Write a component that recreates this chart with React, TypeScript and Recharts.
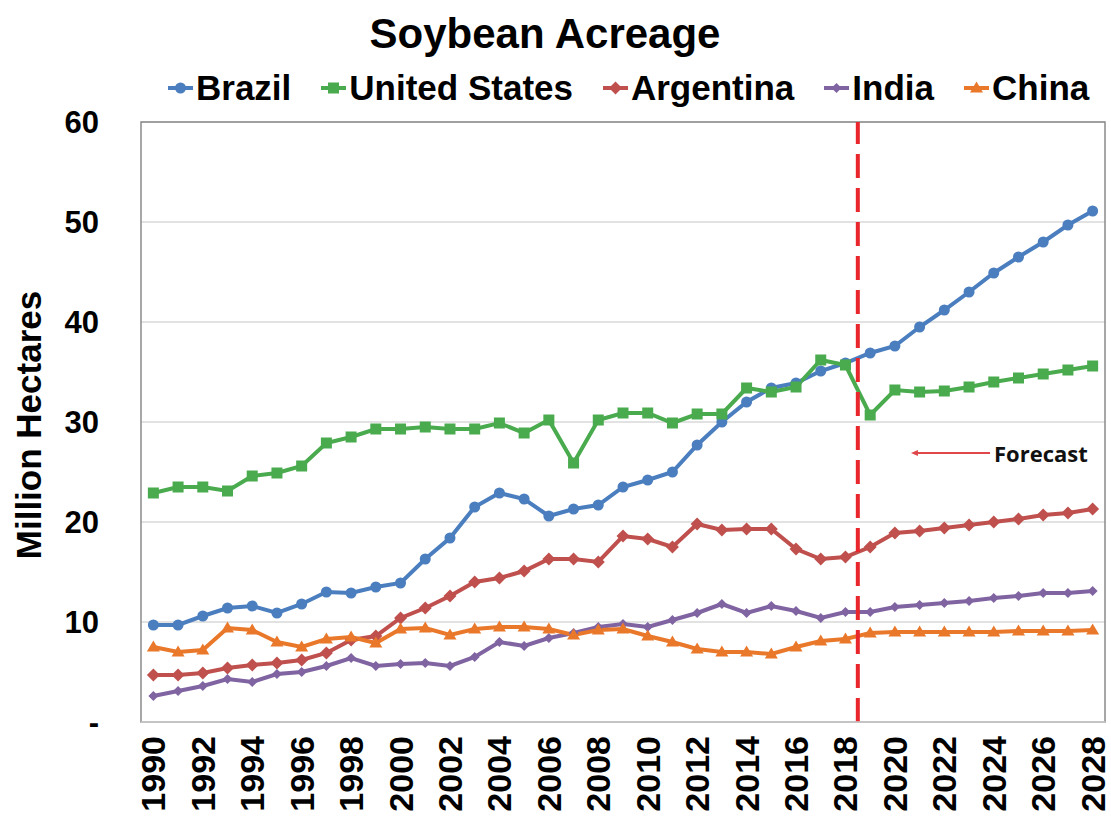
import React from 'react';
import { LineChart, Line, XAxis, YAxis, CartesianGrid, ReferenceLine, ReferenceArea } from 'recharts';

const years = [1990,1991,1992,1993,1994,1995,1996,1997,1998,1999,2000,2001,2002,2003,2004,2005,2006,2007,2008,2009,2010,2011,2012,2013,2014,2015,2016,2017,2018,2019,2020,2021,2022,2023,2024,2025,2026,2027,2028];
const brazil = [9.7,9.7,10.6,11.4,11.6,10.9,11.8,13.0,12.9,13.5,13.9,16.3,18.4,21.5,22.9,22.3,20.6,21.3,21.7,23.5,24.2,25.0,27.7,30.0,32.0,33.4,33.9,35.1,35.9,36.9,37.6,39.5,41.2,43.0,44.9,46.5,48.0,49.7,51.1];
const unitedStates = [22.9,23.5,23.5,23.1,24.6,24.9,25.6,27.9,28.5,29.3,29.3,29.5,29.3,29.3,29.9,28.9,30.2,25.9,30.2,30.9,30.9,29.9,30.8,30.8,33.4,33.0,33.5,36.2,35.7,30.7,33.2,33.0,33.1,33.5,34.0,34.4,34.8,35.2,35.6];
const argentina = [4.7,4.7,4.9,5.4,5.7,5.9,6.2,6.9,8.2,8.6,10.4,11.4,12.6,14.0,14.4,15.1,16.3,16.3,16.0,18.6,18.3,17.5,19.8,19.2,19.3,19.3,17.3,16.3,16.5,17.5,18.9,19.1,19.4,19.7,20.0,20.3,20.7,20.9,21.3];
const india = [2.6,3.1,3.6,4.3,4.0,4.8,5.0,5.6,6.4,5.6,5.8,5.9,5.6,6.5,8.0,7.6,8.4,8.9,9.5,9.8,9.5,10.2,10.9,11.8,10.9,11.6,11.1,10.4,11.0,11.0,11.5,11.7,11.9,12.1,12.4,12.6,12.9,12.9,13.1];
const china = [7.5,7.0,7.2,9.4,9.2,8.0,7.5,8.3,8.5,7.9,9.3,9.4,8.7,9.3,9.5,9.5,9.3,8.7,9.2,9.3,8.6,8.0,7.3,7.0,7.0,6.8,7.5,8.1,8.3,8.9,9.0,9.0,9.0,9.0,9.0,9.1,9.1,9.1,9.2];
const xTicks = [1990,1992,1994,1996,1998,2000,2002,2004,2006,2008,2010,2012,2014,2016,2018,2020,2022,2024,2026,2028];
const yTicks = [0,10,20,30,40,50,60];
const forecastStart = 2018.5;
const arrowFrom = { x: 2023.85, y: 26.9 };
const arrowTo = { x: 2020.65, y: 26.9 };

const data = years.map((year, i) => ({
  year,
  Brazil: brazil[i],
  'United States': unitedStates[i],
  Argentina: argentina[i],
  India: india[i],
  China: china[i],
}));

type Shape = 'circle' | 'square' | 'diamond' | 'smallDiamond' | 'triangle';
const series: { key: string; color: string; shape: Shape }[] = [
  { key: 'Brazil', color: '#4a7ebf', shape: 'circle' },
  { key: 'United States', color: '#4aab4e', shape: 'square' },
  { key: 'Argentina', color: '#bf504d', shape: 'diamond' },
  { key: 'India', color: '#8064a2', shape: 'smallDiamond' },
  { key: 'China', color: '#e9782a', shape: 'triangle' },
];

const FONT = '"Liberation Sans", Arial, sans-serif';

function MarkerShape({ cx, cy, shape, color }: { cx: number; cy: number; shape: Shape; color: string }) {
  if (cx == null || cy == null) return null;
  if (shape === 'circle') return <circle cx={cx} cy={cy} r={5.5} fill={color} />;
  if (shape === 'square') return <rect x={cx - 5.5} y={cy - 5.5} width={11} height={11} fill={color} />;
  if (shape === 'diamond') return <polygon points={`${cx},${cy - 6.5} ${cx + 6.5},${cy} ${cx},${cy + 6.5} ${cx - 6.5},${cy}`} fill={color} />;
  if (shape === 'smallDiamond') return <polygon points={`${cx},${cy - 5} ${cx + 5},${cy} ${cx},${cy + 5} ${cx - 5},${cy}`} fill={color} />;
  return <polygon points={`${cx},${cy - 6.5} ${cx + 6.5},${cy + 4.5} ${cx - 6.5},${cy + 4.5}`} fill={color} />;
}

const makeDot = (shape: Shape, color: string) => (props: any) => (
  <MarkerShape key={`${shape}-${props.index}`} cx={props.cx} cy={props.cy} shape={shape} color={color} />
);

const YTick = (props: any) => {
  const { x, y, payload } = props;
  return (
    <text x={x} y={y} textAnchor="end" dominantBaseline="central" fontFamily={FONT} fontWeight="bold" fontSize={31} fill="#000">
      {payload.value === 0 ? '-' : payload.value}
    </text>
  );
};

const XTick = (props: any) => {
  const { x, y, payload } = props;
  return (
    <text x={x} y={y} transform={`rotate(-90, ${x}, ${y})`} textAnchor="end" dominantBaseline="central" fontFamily={FONT} fontWeight="bold" fontSize={34} fill="#000">
      {payload.value}
    </text>
  );
};

const ArrowShape = (props: any) => {
  const { x1, y1, x2, y2 } = props;
  if (x1 == null) return null;
  const left = Math.min(x1, x2);
  const right = Math.max(x1, x2);
  return (
    <g>
      <line x1={left + 4} y1={y1} x2={right} y2={y2} stroke="#e0474a" strokeWidth={2} />
      <polygon points={`${left},${y1} ${left + 7},${y1 - 3} ${left + 7},${y1 + 3}`} fill="#e0474a" />
      <text x={right + 4} y={y1} dominantBaseline="central" fontFamily='"Open Sans", sans-serif' fontWeight="bold" fontSize={22} fill="#111">
        Forecast
      </text>
    </g>
  );
};

function LegendMarker({ shape, color }: { shape: Shape; color: string }) {
  return (
    <svg width={25} height={14} style={{ display: 'block' }}>
      <line x1={0} y1={7} x2={25} y2={7} stroke={color} strokeWidth={4} />
      <MarkerShape cx={12.5} cy={7} shape={shape} color={color} />
    </svg>
  );
}

export default function App() {
  return (
    <div style={{ position: 'absolute', left: 0, top: 0, width: 1111, height: 823, background: '#fff', fontFamily: FONT }}>
      <LineChart width={1111} height={823} data={data} margin={{ top: 122, right: 6, left: 0, bottom: 0 }}>
        <CartesianGrid horizontal vertical={false} stroke="#d9d9d9" strokeWidth={1.5} />
        <XAxis
          dataKey="year"
          type="number"
          domain={[1989.5, 2028.5]}
          ticks={xTicks}
          interval={0}
          height={101}
          tickLine={false}
          axisLine={{ stroke: '#d0d0d0', strokeWidth: 1.5 }}
          tickSize={0}
          tickMargin={14}
          tick={<XTick />}
          allowDataOverflow
        />
        <YAxis
          domain={[0, 60]}
          ticks={yTicks}
          width={141}
          tickLine={false}
          axisLine={false}
          tickSize={0}
          tickMargin={42}
          tick={<YTick />}
          interval={0}
        />
        <ReferenceArea x1={1989.5} x2={2028.5} y1={0} y2={60} fill="none" stroke="#8a8a8a" strokeWidth={1.5} ifOverflow="visible" />
        {series.map((s) => (
          <Line
            key={s.key}
            type="linear"
            dataKey={s.key}
            stroke={s.color}
            strokeWidth={4}
            dot={makeDot(s.shape, s.color)}
            activeDot={false}
            isAnimationActive={false}
          />
        ))}
        <ReferenceLine x={forecastStart} stroke="#e8262b" strokeWidth={4} strokeDasharray="24 10" ifOverflow="visible" />
        <ReferenceLine segment={[arrowFrom, arrowTo]} shape={<ArrowShape />} ifOverflow="visible" />
      </LineChart>

      <div style={{ position: 'absolute', left: 0, top: 10, width: 1090, textAlign: 'center', fontSize: 42, fontWeight: 'bold', lineHeight: '48px', color: '#000' }}>
        Soybean Acreage
      </div>

      <div style={{ position: 'absolute', left: 168, top: 66, display: 'flex', alignItems: 'center', gap: 30, height: 44 }}>
        {series.map((s) => (
          <div key={s.key} style={{ display: 'flex', alignItems: 'center', gap: 3 }}>
            <LegendMarker shape={s.shape} color={s.color} />
            <span style={{ fontSize: 35, fontWeight: 'bold', color: '#000', lineHeight: '40px', whiteSpace: 'nowrap' }}>{s.key}</span>
          </div>
        ))}
      </div>

      <svg width={60} height={823} style={{ position: 'absolute', left: 0, top: 0 }}>
        <text x={28} y={425} transform="rotate(-90, 28, 425)" textAnchor="middle" dominantBaseline="central" fontFamily={FONT} fontWeight="bold" fontSize={35} fill="#000">
          Million Hectares
        </text>
      </svg>
    </div>
  );
}
